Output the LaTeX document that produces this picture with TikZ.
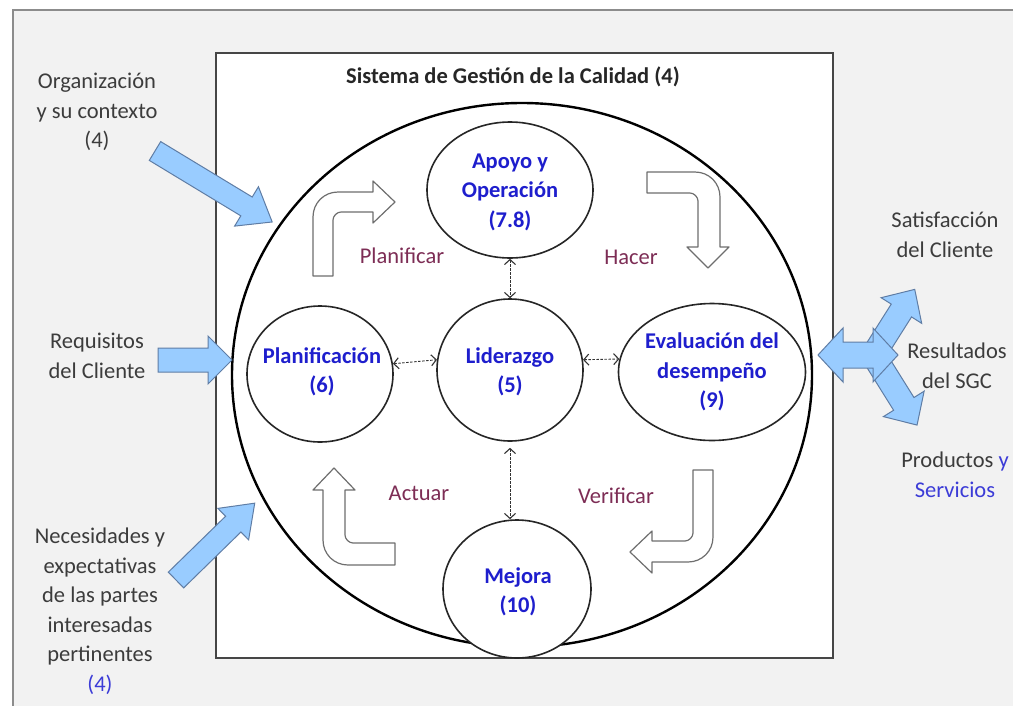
\documentclass[tikz,border=0pt]{standalone}
\usepackage{fontspec}
\setmainfont{Carlito}
\usetikzlibrary{shapes.geometric,arrows.meta}
\definecolor{bgGray}{RGB}{242,242,242}
\definecolor{frameGray}{RGB}{140,140,140}
\definecolor{boxGray}{RGB}{70,70,70}
\definecolor{txtGray}{RGB}{60,60,60}
\definecolor{nodeBlue}{RGB}{30,30,205}
\definecolor{softBlue}{RGB}{60,60,215}
\definecolor{pdcaMaroon}{RGB}{125,45,85}
\definecolor{arrowFill}{RGB}{153,204,255}
\definecolor{arrowLine}{RGB}{95,125,165}
\definecolor{hollowLine}{RGB}{110,110,110}
\newcommand\pdcafont{\fontsize{22.5}{29.5}\selectfont}
% #1 tail centre, #2 angle, #3 length, #4 shaft half width, #5 head half width, #6 head length
\newcommand\BlkArrow[6]{%
  \begin{scope}[shift={#1},rotate=#2]
    \draw[bluearrow] (0,-#4) -- ({#3-#6},-#4) -- ({#3-#6},-#5) -- (#3,0)
      -- ({#3-#6},#5) -- ({#3-#6},#4) -- (0,#4) -- cycle;
  \end{scope}}
\begin{document}
\begin{tikzpicture}[x=1pt,y=-1pt,
  txt/.style={font=\pdcafont, align=center, text=txtGray, inner sep=0pt},
  lbl/.style={font=\pdcafont\bfseries, align=center, text=nodeBlue, inner sep=0pt},
  pdca/.style={font=\pdcafont, text=pdcaMaroon, inner sep=0pt},
  elli/.style={ellipse, draw=black!85, line width=1.6pt, fill=white, inner sep=0pt},
  dasharrow/.style={dash pattern=on 2.5pt off 1.5pt, line width=0.9pt, draw=black!80,
    {Straight Barb[length=5pt,width=11pt,line width=1.1pt]}-{Straight Barb[length=5pt,width=11pt,line width=1.1pt]}},
  hollow/.style={draw=hollowLine, line width=1.2pt, fill=white, line join=round},
  bluearrow/.style={draw=arrowLine, line width=1pt, fill=arrowFill, line join=miter}]
\path[use as bounding box] (0,0) rectangle (1013,705);
\clip (0,0) rectangle (1013,705);
\fill[white] (0,0) rectangle (1013,705);
% outer frame
\draw[fill=bgGray, draw=frameGray, line width=1.5pt] (13,10) rectangle (1040,740);
% inner box
\draw[fill=white, draw=boxGray, line width=2pt] (216,53) rectangle (833,658);
\node[txt, font=\pdcafont\bfseries, text=black!85] (title) at (513,77) {Sistema de Gestión de la Calidad (4)};
% big ring
\node[ellipse, draw=black, line width=2.4pt, minimum width=580pt, minimum height=544pt, inner sep=0pt] (ring) at (522,375) {};
% hollow bent arrows
\draw[hollow] (313,276) -- (313,217) .. controls (313,203) and (324,192) .. (338,192)
  -- (373,192) -- (373,181) -- (395,202) -- (373,223) -- (373,212) -- (341,212)
  .. controls (337,212) and (333,216) .. (333,220) -- (333,276) -- cycle;
\draw[hollow] (647,172) -- (695,172) .. controls (709,172) and (720,183) .. (720,197)
  -- (720,247) -- (729,247) -- (708,268) -- (687,247) -- (698,247) -- (698,201)
  .. controls (698,197) and (694,193) .. (690,193) -- (647,193) -- cycle;
\draw[hollow] (693,470) -- (713,470) -- (713,537) .. controls (713,551) and (702,562) .. (688,562)
  -- (652,562) -- (652,573) -- (630,552) -- (652,531) -- (652,541) -- (685,541)
  .. controls (689,541) and (693,537) .. (693,533) -- cycle;
\draw[hollow] (395,565) -- (348,565) .. controls (334,565) and (323,554) .. (323,540)
  -- (323,490) -- (313,490) -- (334,468) -- (355,490) -- (345,490) -- (345,535)
  .. controls (345,539) and (349,543) .. (353,543) -- (395,543) -- cycle;
% PDCA labels
\node[pdca] (lplan) at (402,256) {Planificar};
\node[pdca] (lhacer) at (631,257) {Hacer};
\node[pdca] (lact) at (419,493) {Actuar};
\node[pdca] (lver) at (616,496) {Verificar};
% process ellipses
\node[elli, minimum width=166pt, minimum height=136pt] (apoyo) at (510,190) {};
\node[elli, minimum width=146pt, minimum height=136pt] (plan) at (320,374) {};
\node[elli, minimum width=146pt, minimum height=142pt] (lider) at (510,370) {};
\node[elli, minimum width=187pt, minimum height=137pt] (eval) at (712,372) {};
\node[elli, minimum width=148pt, minimum height=138pt] (mejora) at (517,589) {};
\node[lbl] (tapoyo) at (510,192) {Apoyo y\\Operación\\(7.8)};
\node[lbl] (tplan) at (322,372) {Planificación\\(6)};
\node[lbl] (tlider) at (510,372) {Liderazgo\\(5)};
\node[lbl] (teval) at (712,372) {Evaluación del\\desempeño\\(9)};
\node[lbl] (tmejora) at (518,592) {Mejora\\(10)};
% dashed links
\draw[dasharrow] (apoyo.south) -- (lider.north);
\draw[dasharrow] (plan.8) -- (lider.172);
\draw[dasharrow] (lider.8) -- (eval.172);
\draw[dasharrow] ([yshift=-6pt]lider.south) -- (mejora.north -| lider.south);
% inputs
\node[txt] (torg) at (97,112) {Organización\\y su contexto\\(4)};
\node[txt] (treq) at (97,356) {Requisitos\\del Cliente};
\node[txt] (tnec) at (100,611) {Necesidades y\\expectativas\\de las partes\\interesadas\\pertinentes\\{\color{softBlue}(4)}};
\BlkArrow{(155,151)}{-31.2}{137}{11}{23}{30}
\BlkArrow{(158,360)}{0}{74}{12}{24}{24}
\BlkArrow{(176,580)}{44.3}{110}{11}{22}{30}
% outputs
\BlkArrow{(872,357)}{57.7}{80}{12}{24}{25}
\BlkArrow{(872,353)}{-58}{85}{12}{24}{25}
\draw[bluearrow] (818,355) -- (843,328) -- (843,342) -- (873,342) -- (873,328) -- (898,355)
  -- (873,382) -- (873,368) -- (843,368) -- (843,382) -- cycle;
\node[txt] (tsat) at (945,235) {Satisfacción\\del Cliente};
\node[txt] (tres) at (957,366) {Resultados\\del SGC};
\node[txt] (tprod) at (955,475) {Productos {\color{softBlue}y}\\{\color{softBlue}Servicios}};
\end{tikzpicture}
\end{document}
